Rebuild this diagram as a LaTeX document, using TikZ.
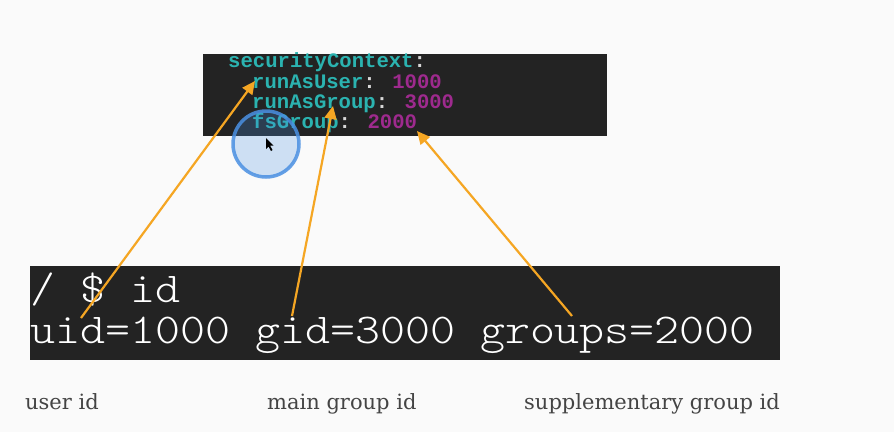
\documentclass[tikz,border=0pt]{standalone}
\usepackage{fontspec}
\setmainfont{DejaVu Serif}
\newfontfamily\codefont{Liberation Mono}
\newfontfamily\shellfont{Latin Modern Mono Light}
\usetikzlibrary{arrows.meta}
\definecolor{termbg}{HTML}{232323}
\definecolor{keyc}{HTML}{2BB3B0}
\definecolor{valc}{HTML}{9E2A8E}
\definecolor{colc}{HTML}{D8D8D8}
\definecolor{arrc}{HTML}{F5A623}
\definecolor{ringc}{HTML}{4A90E2}
\definecolor{labc}{HTML}{444444}
\newcommand{\shellline}[1]{\scalebox{1.12}[1]{#1}}
\begin{document}
\begin{tikzpicture}[x=1pt,y=-1pt,
  term/.style={fill=termbg, draw=none, inner sep=0pt, anchor=north west},
  yaml/.style={font=\codefont\bfseries\fontsize{20.6}{22}\selectfont, inner sep=0pt, anchor=base west},
  shell/.style={font=\shellfont\fontsize{42.5}{44}\selectfont, text=white, inner sep=0pt, anchor=base west},
  lab/.style={font=\fontsize{21}{24}\selectfont, text=labc, inner sep=0pt, anchor=base west},
  link/.style={draw=arrc, line width=2.2pt, -{Triangle[length=13pt,width=12pt]}}]
\useasboundingbox (0,0) rectangle (894,432);
\fill[white!98!black] (0,0) rectangle (894,432);
% top box
\node[term, minimum width=404pt, minimum height=82pt] (sc) at (203,54) {};
\node[yaml] (l1) at (228,67) {\textcolor{keyc}{securityContext}\textcolor{colc}{:}};
\node[yaml] (l2) at (252,88) {\textcolor{keyc}{runAsUser}\textcolor{colc}{: }\textcolor{valc}{1000}};
\node[yaml] (l3) at (252,108) {\textcolor{keyc}{runAsGroup}\textcolor{colc}{: }\textcolor{valc}{3000}};
\node[yaml] (l4) at (252,128) {\textcolor{keyc}{fsGroup}\textcolor{colc}{: }\textcolor{valc}{2000}};
% cursor highlight
\node[circle, minimum size=66pt, draw=ringc, line width=3.5pt, fill=ringc, fill opacity=0.25, draw opacity=0.85, inner sep=0pt] (ring) at (266,144) {};
\fill[black] (266,138) -- (266,149) -- (268.5,146.5) -- (271,151) -- (272.5,150) -- (270,145.5) -- (273.5,145.5) -- cycle;
% bottom box
\node[term, minimum width=750pt, minimum height=94pt] (idbox) at (30,266) {};
\node[shell] (s1) at (30,302) {\shellline{/ \$ id}};
\node[shell] (s2) at (30,343) {\shellline{uid=1000 gid=3000 groups=2000}};
% labels
\node[lab] (u) at (25,409) {user id};
\node[lab] (g) at (267,409) {main group id};
\node[lab] (sg) at (524,409) {supplementary group id};
% arrows
\coordinate (a1s) at (81,318); \coordinate (a1e) at (255,81);
\coordinate (a2s) at (292,316); \coordinate (a2e) at (333,106);
\coordinate (a3s) at (572,316); \coordinate (a3e) at (417,131);
\draw[link] (a1s) -- (a1e);
\draw[link] (a2s) -- (a2e);
\draw[link] (a3s) -- (a3e);
\end{tikzpicture}
\end{document}
